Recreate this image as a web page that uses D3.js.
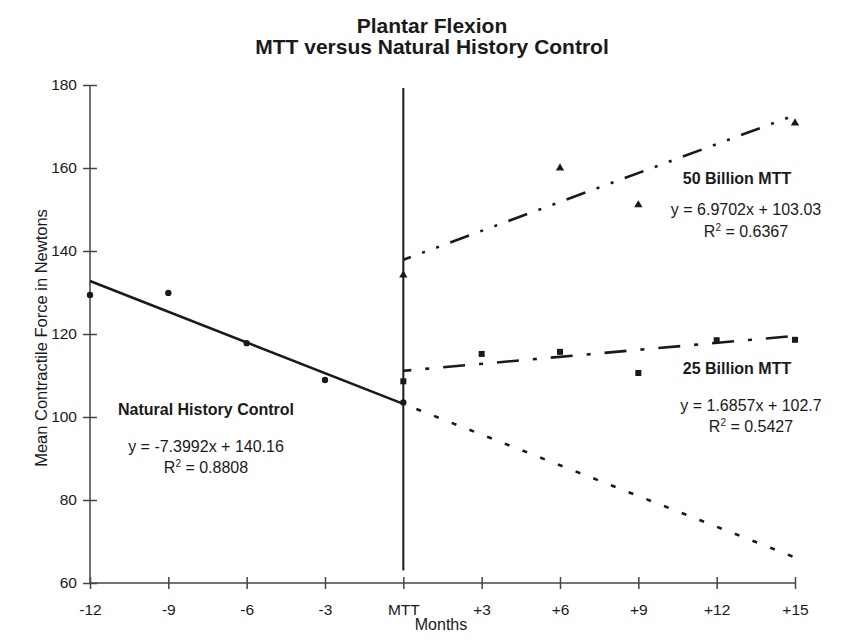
<!DOCTYPE html>
<html>
<head>
<meta charset="utf-8">
<script src="https://cdn.jsdelivr.net/npm/d3@7"></script>
<style>
  body { margin: 0; background: #fff; }
  svg text { font-family: "Liberation Sans", Arial, sans-serif; fill: #1a1a1a; }
</style>
</head>
<body>
<div id="chart-container"><svg id="my-chart" width="866" height="641"></svg></div>
<script>
// categories along the x axis (index 1..10 is what the trend equations use)
const months = ["-12", "-9", "-6", "-3", "MTT", "+3", "+6", "+9", "+12", "+15"];
const yTicks = [60, 80, 100, 120, 140, 160, 180];

// observed means, [category index, force]
const naturalHistory = [[1, 129.4], [2, 129.9], [3, 117.8], [4, 108.9], [5, 103.5]];
const billion25 = [[5, 108.6], [6, 115.2], [7, 115.7], [8, 110.6], [9, 118.5], [10, 118.6]];
const billion50 = [[5, 134.2], [7, 160.0], [8, 151.1], [10, 170.8]];

// trend lines as printed on the chart: slope, intercept, from, to
const trendNH = [-7.3992, 140.16, 1, 5];
const trendNHext = [-7.3992, 140.16, 5, 10];
const trend25 = [1.6857, 102.7, 5, 10];
const trend50 = [6.9702, 103.03, 5, 10];

function drawChart() {
    const svg = d3.select('#my-chart');
    svg.selectAll('*').remove();

    const x = d3.scaleLinear().domain([1, 10]).range([90, 795]);
    const y = d3.scaleLinear().domain([60, 180]).range([583, 85]);
    const g = svg.append("g");
    const ink = "#1a1a1a";

    // title
    g.append("text").attr("x", 432).attr("y", 33).attr("text-anchor", "middle")
        .attr("font-size", 21).attr("font-weight", "bold").text("Plantar Flexion");
    g.append("text").attr("x", 432).attr("y", 54).attr("text-anchor", "middle")
        .attr("font-size", 21).attr("font-weight", "bold").text("MTT versus Natural History Control");

    // axes
    const yAxis = g.append("g").attr("transform", `translate(${x(1)},0)`)
        .call(d3.axisLeft(y).tickValues(yTicks).tickSize(7).tickPadding(6));
    yAxis.selectAll(".tick line").attr("x2", 7).attr("x1", -7);
    const xAxis = g.append("g").attr("transform", `translate(0,${y(60)})`)
        .call(d3.axisBottom(x).tickValues(d3.range(1, 11)).tickFormat(i => months[i - 1])
            .tickSize(7).tickPadding(14));
    xAxis.selectAll(".tick line").attr("y1", -6).attr("y2", 6);
    [yAxis, xAxis].forEach(a => {
        a.select(".domain").attr("stroke", "#444").attr("stroke-width", 1.5);
        a.selectAll(".tick line").attr("stroke", "#444").attr("stroke-width", 1.5);
        a.selectAll("text").attr("font-size", 15.5).attr("fill", ink)
            .attr("font-family", '"Liberation Sans", Arial, sans-serif');
    });
    yAxis.select(".domain").attr("d", `M0,${y(180)}V${y(60)}`);
    xAxis.select(".domain").attr("d", `M${x(1)},0H${x(10)}`);

    // axis titles
    g.append("text").attr("transform", `translate(47,${y(120) + 4}) rotate(-90)`)
        .attr("text-anchor", "middle").attr("font-size", 16.5)
        .text("Mean Contractile Force in Newtons");
    g.append("text").attr("x", 441).attr("y", 630).attr("text-anchor", "middle")
        .attr("font-size", 16).text("Months");

    // treatment start marker
    g.append("line").attr("x1", x(5)).attr("x2", x(5))
        .attr("y1", y(179.3)).attr("y2", y(63))
        .attr("stroke", ink).attr("stroke-width", 2);

    // trend lines
    const trendLine = (t, dash, offset) => g.append("line")
        .attr("x1", x(t[2])).attr("y1", y(t[0] * t[2] + t[1]))
        .attr("x2", x(t[3])).attr("y2", y(t[0] * t[3] + t[1]))
        .attr("stroke", ink).attr("stroke-width", 2.6)
        .attr("stroke-dasharray", dash).attr("stroke-dashoffset", offset || 0);
    trendLine(trendNH, null);
    trendLine(trendNHext, "5,14", 5);
    trendLine(trend50, "20,12,3,12,3,12", 12);
    trendLine(trend25, "22,14,4,14", 14);

    // points
    g.append("g").selectAll("circle").data(naturalHistory).join("circle")
        .attr("cx", d => x(d[0])).attr("cy", d => y(d[1])).attr("r", 3.2).attr("fill", ink);
    g.append("g").selectAll("rect").data(billion25).join("rect")
        .attr("x", d => x(d[0]) - 3).attr("y", d => y(d[1]) - 3)
        .attr("width", 6).attr("height", 6).attr("fill", ink);
    g.append("g").selectAll("path").data(billion50).join("path")
        .attr("transform", d => `translate(${x(d[0])},${y(d[1])})`)
        .attr("d", d3.symbol(d3.symbolTriangle, 30)).attr("fill", ink);

    // equation labels
    const label = (cx, cy, lines) => {
        lines.forEach((l, i) => {
            const t = g.append("text").attr("x", cx + (l.dx || 0)).attr("y", cy[i])
                .attr("text-anchor", "middle").attr("font-size", 16)
                .attr("font-weight", l.bold ? "bold" : "normal");
            if (l.r2) {
                t.append("tspan").text("R");
                t.append("tspan").attr("dy", -6).attr("font-size", 10).text("2");
                t.append("tspan").attr("dy", 6).text(" = " + l.r2);
            } else t.text(l.text);
        });
    };
    label(206, [415, 452, 473], [
        { text: "Natural History Control", bold: true },
        { text: "y = -7.3992x + 140.16" },
        { r2: "0.8808" }]);
    label(746, [184, 215, 237], [
        { text: "50 Billion MTT", bold: true, dx: -9 },
        { text: "y = 6.9702x + 103.03" },
        { r2: "0.6367" }]);
    label(751, [374, 411, 432], [
        { text: "25 Billion MTT", bold: true, dx: -14 },
        { text: "y = 1.6857x + 102.7" },
        { r2: "0.5427" }]);
}

drawChart();
</script>
</body>
</html>
